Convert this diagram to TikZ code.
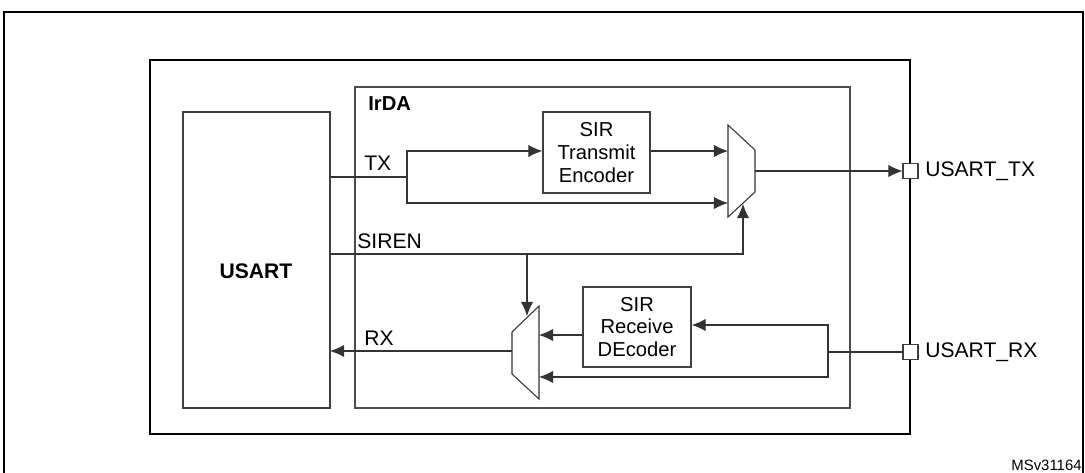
\documentclass[tikz,border=0pt]{standalone}
\usepackage{fontspec}
\setmainfont{Liberation Sans}
\usetikzlibrary{arrows.meta}
\begin{document}
\begin{tikzpicture}[x=0.02cm,y=-0.02cm,
  ln/.style={line width=0.6pt,draw=black!80},
  ar/.style={ln,-{Latex[length=8pt,width=7pt]}},
  blk/.style={draw=black!75,line width=0.7pt,align=center,inner sep=0pt,font=\fontsize{11.5}{13}\selectfont},
  lbl/.style={font=\fontsize{12}{14}\selectfont,inner sep=0pt},
  pin/.style={draw=black!75,fill=white,line width=0.6pt,minimum size=0.3cm,inner sep=0pt}]
\useasboundingbox (0,0) rectangle (1085,473);
\draw[line width=1pt] (4,480) -- (4,12) -- (1083,12) -- (1083,480);
\draw[line width=1.4pt] (150,60) rectangle (910,434);
\draw[ln,draw=black!70] (355,87) rectangle (850,408);
\node[lbl,font=\bfseries\fontsize{11.5}{13}\selectfont,anchor=west] (irda) at (368,104) {IrDA};
\draw[draw=black!75,line width=0.7pt] (183,112) rectangle (330,408);
\node[lbl,font=\bfseries\fontsize{12}{14}\selectfont] (ul) at (256,271) {USART};
\node[blk,minimum width=2.14cm,minimum height=1.62cm] (enc) at (596.5,152.5) {SIR\\Transmit\\Encoder};
\node[blk,minimum width=2.16cm,minimum height=1.6cm] (dec) at (637,327) {SIR\\Receive\\DEcoder};
% TX mux
\draw[ln] (728,125) -- (755,150) -- (755,192) -- (728,217) -- cycle;
\coordinate (mtx1) at (728,151); \coordinate (mtx2) at (728,203);
\coordinate (mtxs) at (743,204); \coordinate (mtxo) at (755,171);
% RX mux
\draw[ln] (539,306) -- (512,332) -- (512,374) -- (539,399) -- cycle;
\coordinate (mrx1) at (539,335); \coordinate (mrx2) at (539,377);
\coordinate (mrxs) at (527,316); \coordinate (mrxo) at (512,351);
\node[pin] (ptx) at (910.5,171) {};
\node[pin] (prx) at (910.5,352) {};
\node[lbl,anchor=west] at (925,171) {USART\_TX};
\node[lbl,anchor=west] at (925,352) {USART\_RX};
\node[lbl,anchor=west] at (364,163) {TX};
\node[lbl,anchor=west] at (357,241) {SIREN};
\node[lbl,anchor=west] at (364,338) {RX};
\node[lbl,font=\fontsize{8.5}{10}\selectfont,anchor=south east] at (1082,471) {MSv31164};
% wires
\coordinate (br) at (407,177);
\draw[ln] (330,177) -- (br);
\draw[ar] (br) |- (enc.west |- 0,151);
\draw[ar] (br) |- (mtx2);
\draw[ar] (enc.east |- mtx1) -- (mtx1);
\draw[ar] (mtxo) -- (ptx.west);
\draw[ar] (330,254) -| (mtxs);
\draw[ar] (527,254) -- (mrxs);
\draw[ar] (dec.west |- mrx1) -- (mrx1);
\draw[ar] (mrxo) -- (330,351);
\draw[ln] (prx.west) -- (828,352);
\draw[ar] (828,352) |- (dec.east |- 0,325);
\draw[ar] (828,352) |- (mrx2);
\end{tikzpicture}
\end{document}
